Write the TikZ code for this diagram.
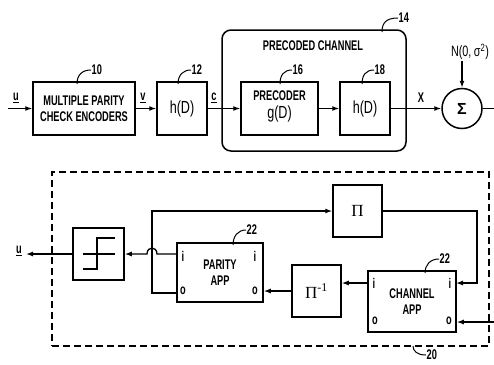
\documentclass[tikz,border=0pt]{standalone}
\usepackage{fontspec}
\setmainfont{Liberation Sans}
\newfontfamily\capf[FakeStretch=0.66]{Liberation Sans}
\newfontfamily\regf[FakeStretch=0.72]{Liberation Sans}
\newfontfamily\sumf{Liberation Sans}
\newfontfamily\serf{Liberation Serif}
\usetikzlibrary{arrows.meta,calc}
\tikzset{
  box/.style 2 args={draw,line width=1.5pt,minimum width=#1,minimum height=#2,inner sep=0pt,align=center},
  capt/.style={font=\capf\bfseries\fontsize{14}{15.5}\selectfont,inner sep=0.5pt,align=center},
  hd/.style={font=\regf\fontsize{17.5}{19}\selectfont,inner sep=0pt},
  num/.style={font=\capf\bfseries\fontsize{14}{15}\selectfont,inner sep=0.5pt},
  conn/.style={line width=1.3pt,-{Latex[length=7pt,width=5pt]}},
  plain/.style={line width=1.3pt},
  lead/.style={line width=1pt},
  sym/.style={line width=1.8pt}
}
\begin{document}
\begin{tikzpicture}[x=1pt,y=-1pt]
\useasboundingbox (0,0) rectangle (494,364);
% ---------- top chain ----------
\node[box={102pt}{53pt},capt] (enc) at (84,108.5) {MULTIPLE PARITY\\CHECK ENCODERS};
\node[box={50pt}{53pt},hd] (h1) at (182,108.5) {h(D)};
\node[draw,line width=1.5pt,rounded corners=9pt,minimum width=184pt,minimum height=121pt,inner sep=0pt] (pc) at (314,90.5) {};
\node[capt] (pct) at (313,46) {PRECODED CHANNEL};
\node[box={77pt}{53pt}] (pre) at (279.5,108.5) {};
\node[capt] (pret) at (279.5,96) {PRECODER};
\node[hd] (pregd) at (279.5,114) {g(D)};
\node[box={50pt}{53pt},hd] (h2) at (365,108.5) {h(D)};
\node[circle,draw,line width=1.5pt,minimum size=40pt,inner sep=0pt,font=\sumf\bfseries\fontsize{16}{18}\selectfont] (sum) at (462,108.5) {Σ};
\node[font=\regf\fontsize{15}{17}\selectfont,inner sep=1pt] (noise) at (470,52) {N(0,\,σ\textsuperscript{2})};
\coordinate (ui) at (8,108.5);
\coordinate (so) at (494,108.5);
\draw[conn] (ui) -- (enc.west);
\draw[conn] (enc.east) -- (h1.west);
\draw[conn] (h1.east) -- (pre.west);
\draw[conn] (pre.east) -- (h2.west);
\draw[conn] (h2.east) -- (sum.west);
\draw[conn] (noise.south -| sum.north) -- (sum.north);
\draw[plain] (sum.east) -- (so);
\node[capt] (lu) at (16,98) {\underline{u}};
\node[capt] (lv) at (143,98) {\underline{v}};
\node[capt] (lc) at (214,98) {\underline{c}};
\node[capt] (lx) at (421,98) {X};
% reference numerals
\node[num,anchor=west] (n10) at (91,70) {10};
\draw[lead] (77,84) .. controls (77,75) and (82,70) .. (n10.west);
\node[num,anchor=west] (n12) at (191,70) {12};
\draw[lead] (178,84) .. controls (178,75) and (183,70) .. (n12.west);
\node[num,anchor=west] (n16) at (292,70) {16};
\draw[lead] (280,84) .. controls (280,75) and (284,70) .. (n16.west);
\node[num,anchor=west] (n18) at (374,70) {18};
\draw[lead] (362,84) .. controls (362,75) and (366,70) .. (n18.west);
\node[num,anchor=west] (n14) at (398,18) {14};
\draw[lead] (382,32) .. controls (382,23) and (386,18) .. (n14.west);
% ---------- decoder ----------
\node[draw,line width=1.3pt,dash pattern=on 7pt off 4pt,minimum width=437pt,minimum height=174pt,inner sep=0pt] (dec) at (270.5,259) {};
\node[box={51pt}{52pt}] (thr) at (98.5,254) {};
\draw[sym] ($(thr.center)+(-16,0)$) -- +(32,0);
\draw[sym] ($(thr.center)+(-16,15)$) -- +(14.5,0) -- +(14.5,-31) -- +(32.5,-31);
\node[box={86pt}{59pt},capt] (par) at (220,272.5) {PARITY\\APP};
\node[box={49pt}{52pt},font=\serf\fontsize{17}{19}\selectfont] (pi) at (357.5,211) {Π};
\node[box={49pt}{52pt},font=\serf\fontsize{17}{19}\selectfont] (pinv) at (316.5,291) {Π\textsuperscript{-1}};
\node[box={88pt}{61pt},capt] (chan) at (412,301.5) {CHANNEL\\APP};
% port labels
\node[capt] (pi1) at (183,256) {i};
\node[capt] (po1) at (183,291) {o};
\node[capt] (pi2) at (255,256) {i};
\node[capt] (po2) at (255,291) {o};
\node[capt] (ci1) at (374,283) {i};
\node[capt] (co1) at (375,321) {o};
\node[capt] (ci2) at (450,283) {i};
\node[capt] (co2) at (449,321) {o};
% connectors
\coordinate (pari) at (177,254);
\coordinate (paro) at (177,293);
\coordinate (chin) at (456,283);
\coordinate (chout) at (368,283);
\coordinate (ext) at (494,322);
\coordinate (uo) at (26,254);
\draw[conn] (pari) -- (157,254) .. controls (157,246) and (147,246) .. (147,254) -- (thr.east);
\draw[conn] (paro) -| (152,211) -- (pi.west);
\draw[conn] (pi.east) -| (477,283) -- (chin);
\draw[conn] (chout) -- (chout -| pinv.east);
\draw[conn] (pinv.west) -- (pinv.west -| par.east);
\draw[conn] (ext) -- (ext -| chan.east);
\draw[conn] (thr.west) -- (uo);
\node[capt] (lu2) at (19,251) {\underline{u}};
\node[num,anchor=west] (n22a) at (246,230) {22};
\draw[lead] (233,245) .. controls (233,236) and (238,230) .. (n22a.west);
\node[num,anchor=west] (n22b) at (439,259) {22};
\draw[lead] (425,273) .. controls (425,265) and (430,259) .. (n22b.west);
\node[num,anchor=west] (n20) at (426,355) {20};
\draw[lead] (413,346) .. controls (413,351) and (417,355) .. (n20.west);
\end{tikzpicture}
\end{document}
